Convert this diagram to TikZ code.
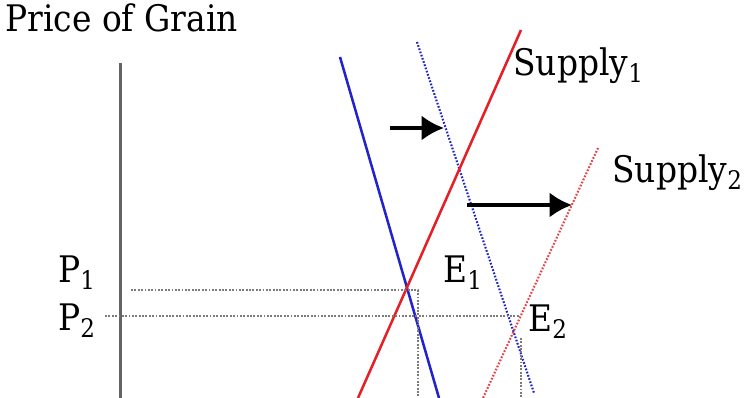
\documentclass[tikz,border=0pt]{standalone}
\usepackage{fontspec}
\setmainfont[FakeStretch=0.9]{DejaVu Serif}
\usetikzlibrary{arrows.meta}
\definecolor{demandblue}{RGB}{35,35,205}
\definecolor{supplyred}{RGB}{228,32,38}
\definecolor{axisgray}{RGB}{100,100,100}
\begin{document}
\begin{tikzpicture}[x=0.025cm, y=-0.025cm,
    font=\fontsize{26}{31}\selectfont,
    lbl/.style={anchor=base west, inner sep=0pt},
    axis/.style={axisgray, line width=2.8pt},
    curve/.style={line width=1.8pt},
    shifted/.style={line width=1.5pt, dash pattern=on 1.2pt off 1.2pt},
    guide/.style={axisgray!85, line width=1.6pt, dash pattern=on 1.3pt off 1.1pt},
    shiftarrow/.style={-{Latex[length=16pt, width=18pt]}, line width=2.6pt}
]
    \useasboundingbox (0,0) rectangle (744,398);

    % Axis and its title
    \node[lbl] (title) at (5,32) {Price of Grain};
    \draw[axis] (120.5,63) -- (120.5,398);

    % Demand, before and after
    \draw[curve, demandblue] (340,57) -- (439,398);
    \draw[shifted, demandblue] (417,42) -- (534,393);

    % Supply, before and after
    \draw[curve, supplyred] (521,30) -- (358,398);
    \draw[shifted, supplyred!85] (598,148) -- (483,398);
    \node[lbl] (s1) at (513,76) {Supply\textsubscript{1}};
    \node[lbl] (s2) at (612,183) {Supply\textsubscript{2}};

    % Shift arrows
    \coordinate (a1) at (390,128);
    \coordinate (b1) at (444,128);
    \coordinate (a2) at (467,205);
    \coordinate (b2) at (572,205);
    \draw[shiftarrow] (a1) -- (b1);
    \draw[shiftarrow] (a2) -- (b2);

    % Equilibria and price levels
    \coordinate (g1) at (131,290);
    \coordinate (e1) at (418,290);
    \coordinate (f1) at (418,398);
    \coordinate (g2) at (105,316);
    \coordinate (e2) at (519,316);
    \coordinate (h2) at (521,338);
    \coordinate (f2) at (521,398);
    \draw[guide] (g1) -- (e1) -- (f1);
    \draw[guide] (g2) -- (e2);
    \draw[guide] (h2) -- (f2);

    \node[lbl] (p1) at (58,283) {P\textsubscript{1}};
    \node[lbl] (p2) at (58,331) {P\textsubscript{2}};
    \node[lbl] (E1) at (443,283) {E\textsubscript{1}};
    \node[lbl] (E2) at (528,332) {E\textsubscript{2}};
\end{tikzpicture}
\end{document}
